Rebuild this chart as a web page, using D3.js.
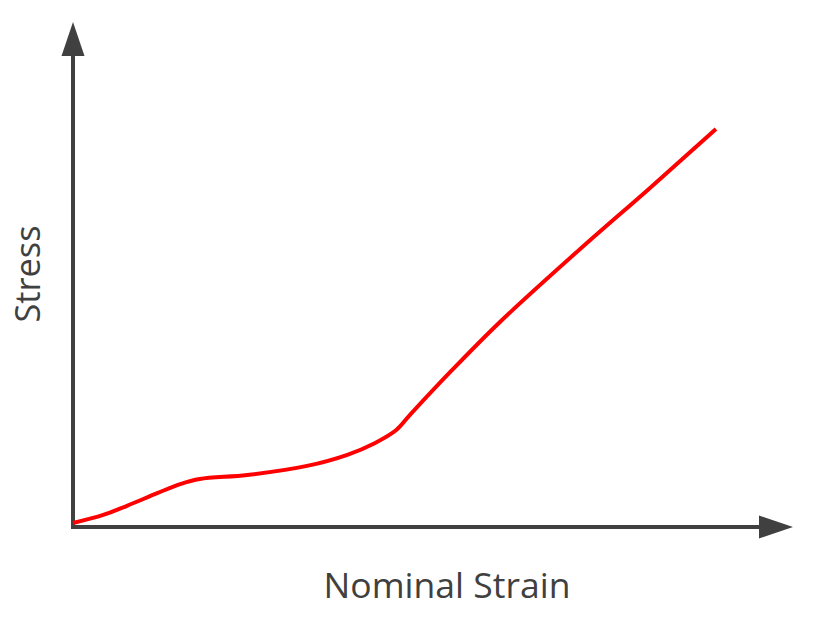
<!DOCTYPE html>
<html>
<head>
<meta charset="utf-8">
<script src="https://cdn.jsdelivr.net/npm/d3@7"></script>
<style>
  html, body { margin: 0; padding: 0; background: #fff; }
  svg { display: block; }
</style>
</head>
<body>
<svg id="chart" width="816" height="624"></svg>
<script>
// Data (arbitrary units, 0..10 on both axes)
const strain = [0, 0.42, 0.75, 1.17, 1.49, 1.76, 2.42, 3.25, 3.81, 4.19, 4.49, 4.68, 5.24, 5.93, 7.04, 8.01, 8.93];
const stress = [0.08, 0.24, 0.42, 0.67, 0.85, 0.95, 1.03, 1.21, 1.43, 1.66, 1.92, 2.22, 3.07, 4.06, 5.50, 6.71, 7.88];
const xTitle = "Nominal Strain";
const yTitle = "Stress";
const xDomain = [0, 10];
const yDomain = [0, 10];

const svg = d3.select("#chart");
const axisColor = "#404040";

const x = d3.scaleLinear().domain(xDomain).range([73, 793]);
const y = d3.scaleLinear().domain(yDomain).range([527, 22]);

const arrowLen = 34, arrowHalf = 11.5;
const [x0, x1] = x.range();
const [y0, y1] = y.range();

// Axis lines
svg.append("line")
  .attr("x1", x0).attr("y1", y0 + 2)
  .attr("x2", x0).attr("y2", y1 + arrowLen)
  .attr("stroke", axisColor).attr("stroke-width", 4);
svg.append("line")
  .attr("x1", x0 - 2).attr("y1", y0)
  .attr("x2", x1 - arrowLen).attr("y2", y0)
  .attr("stroke", axisColor).attr("stroke-width", 4);

// Arrowheads
svg.append("polygon")
  .attr("points", [[x0, y1], [x0 - arrowHalf, y1 + arrowLen], [x0 + arrowHalf, y1 + arrowLen]].map(p => p.join(",")).join(" "))
  .attr("fill", axisColor);
svg.append("polygon")
  .attr("points", [[x1, y0], [x1 - arrowLen, y0 - arrowHalf], [x1 - arrowLen, y0 + arrowHalf]].map(p => p.join(",")).join(" "))
  .attr("fill", axisColor);

// Curve
const data = strain.map((s, i) => [s, stress[i]]);
const line = d3.line()
  .x(d => x(d[0]))
  .y(d => y(d[1]))
  .curve(d3.curveCatmullRom.alpha(0.5));
svg.append("path")
  .datum(data)
  .attr("d", line)
  .attr("fill", "none")
  .attr("stroke", "#ff0000")
  .attr("stroke-width", 4)
  .attr("stroke-linecap", "butt")
  .attr("stroke-linejoin", "round");

// Titles
const font = "'Open Sans', 'Noto Sans', sans-serif";
const xt = svg.append("text")
  .attr("x", 447).attr("y", 598)
  .attr("text-anchor", "middle")
  .attr("font-family", font)
  .attr("font-size", 34)
  .attr("fill", axisColor)
  .text(xTitle);
const wx = xt.node().getComputedTextLength();
xt.attr("font-size", 34 * 247 / wx);

const yt = svg.append("text")
  .attr("transform", "translate(40,274) rotate(-90)")
  .attr("text-anchor", "middle")
  .attr("font-family", font)
  .attr("font-size", 34)
  .attr("fill", axisColor)
  .text(yTitle);
const wy = yt.node().getComputedTextLength();
yt.attr("font-size", 34 * 97 / wy);
</script>
</body>
</html>
